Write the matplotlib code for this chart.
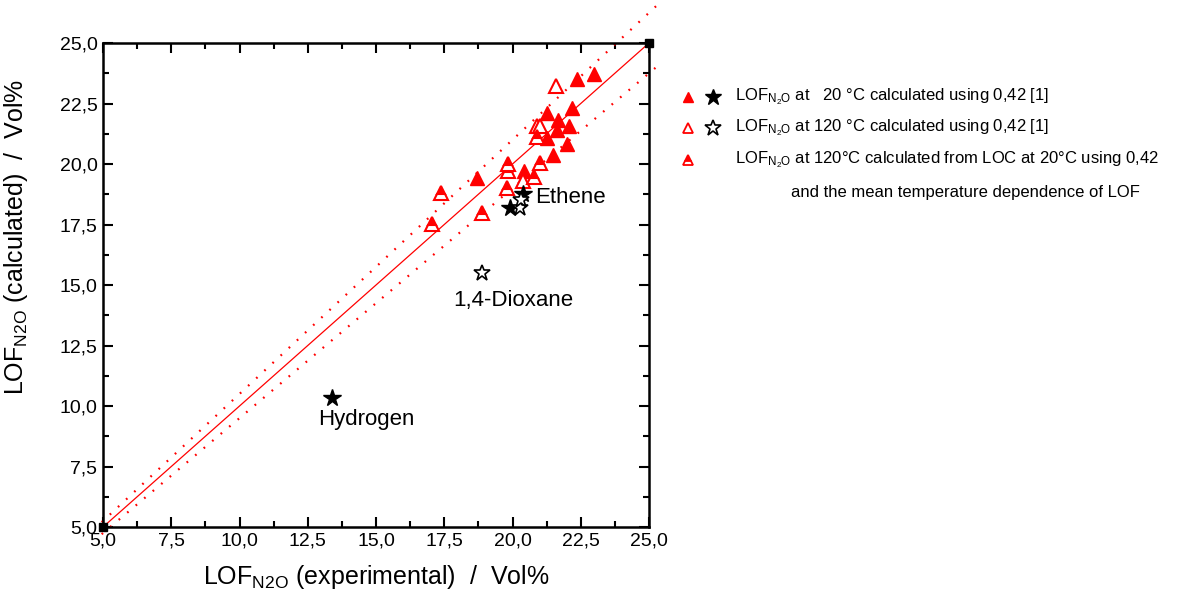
import numpy as np
import matplotlib
matplotlib.use("Agg")
import matplotlib.pyplot as plt
from matplotlib.ticker import MultipleLocator, FuncFormatter

plt.rcParams['font.family'] = ['Liberation Sans', 'DejaVu Sans']
plt.rcParams['mathtext.default'] = 'regular'

# LOF N2O, experimental vs calculated (Vol%)
# red filled triangles: 20 degC calculated
x_tri20 = [18.70, 20.42, 21.26, 22.18, 21.67, 22.07, 21.63, 21.26, 22.00, 21.48, 22.36, 22.99]
y_tri20 = [19.42, 19.71, 22.11, 22.31, 21.82, 21.57, 21.40, 21.07, 20.83, 20.37, 23.51, 23.72]
# red open triangles: 120 degC calculated
x_tri120 = [21.59, 20.90, 21.00, 20.38]
y_tri120 = [23.22, 21.57, 21.57, 19.30]
# red half triangles: 120 degC from LOC at 20 degC
x_trimix = [20.90, 21.00, 19.84, 19.84, 20.79, 19.80, 17.38, 17.05, 18.88]
y_trimix = [21.12, 20.04, 20.00, 19.71, 19.46, 18.99, 18.80, 17.52, 17.98]
# black stars (gases)
x_star20 = [13.39, 19.91, 20.38]
y_star20 = [10.33, 18.18, 18.75]
x_star120 = [18.88, 20.27, 20.30]
y_star120 = [15.50, 18.18, 18.50]

labels = ['Ethene', '1,4-Dioxane', 'Hydrogen']
label_xy = [(20.82, 18.6), (20.04, 14.38), (14.63, 9.46)]
label_ha = ['left', 'center', 'center']

lims = [5, 25]
ticks = np.arange(5, 25.1, 2.5)

fig = plt.figure(figsize=(11.83, 5.99), dpi=100)
ax = fig.add_axes([0.0871, 0.1202, 0.4615, 0.808])

# 1:1 line and +-5 % lines
xl = np.array(lims)
xd = np.array([4.95, 25.4])
ax.plot(xl, xl, color='red', lw=0.9, zorder=2)
ax.plot(xd, xd * 1.05, color='red', lw=1.6, ls=(0, (0.8, 4.2)), clip_on=False, zorder=2)
ax.plot(xd, xd * 0.95, color='red', lw=1.6, ls=(0, (0.8, 4.2)), clip_on=False, zorder=2)
ax.plot(lims, lims, ls='none', marker='s', color='black', ms=6, clip_on=False, zorder=5)

ax.plot(x_tri20, y_tri20, ls='none', marker='^', ms=10, color='red', zorder=3)
ax.plot(x_tri120, y_tri120, ls='none', marker='^', ms=10, mfc='white', mec='red', mew=1.5, zorder=3)
ax.plot(x_trimix, y_trimix, ls='none', marker='^', ms=10, color='red', fillstyle='top',
        markerfacecoloralt='white', mec='red', mew=1.5, zorder=3)
ax.plot(x_star20, y_star20, ls='none', marker='*', ms=13, color='black', zorder=4)
ax.plot(x_star120, y_star120, ls='none', marker='*', ms=12, mfc='white', mec='black', mew=1.2, zorder=4)

for t, (lx, ly), ha in zip(labels, label_xy, label_ha):
    ax.text(lx, ly, t, fontsize=16, ha=ha, va='center')

ax.set_xlim(lims)
ax.set_ylim(lims)
ax.set_xticks(ticks)
ax.set_yticks(ticks)
ax.xaxis.set_minor_locator(MultipleLocator(1.25))
ax.yaxis.set_minor_locator(MultipleLocator(1.25))
fmt = FuncFormatter(lambda v, p: f'{v:.1f}'.replace('.', ','))
ax.xaxis.set_major_formatter(fmt)
ax.yaxis.set_major_formatter(fmt)
ax.tick_params(which='both', direction='in', top=True, right=True, width=1.5, labelsize=14, pad=4)
ax.tick_params(which='major', length=7)
ax.tick_params(which='minor', length=4)
for s in ax.spines.values():
    s.set_linewidth(1.8)

ax.set_xlabel(r'LOF$_{N2O}$ (experimental)  /  Vol%', fontsize=18, labelpad=10)
ax.set_ylabel(r'LOF$_{N2O}$ (calculated)  /  Vol%', fontsize=18)
ax.yaxis.set_label_coords(-0.134, 0.60)

# legend drawn in pixel coordinates
lax = fig.add_axes([0, 0, 1, 1], zorder=-1)
lax.set_xlim(0, 1183)
lax.set_ylim(599, 0)
lax.axis('off')
lax.plot([688], [97], marker='^', ms=7, color='red', ls='none')
lax.plot([713], [97], marker='*', ms=12, color='black', ls='none')
lax.plot([688], [128], marker='^', ms=7, mfc='white', mec='red', mew=1.3, ls='none')
lax.plot([713], [128], marker='*', ms=12, mfc='white', mec='black', mew=1.2, ls='none')
lax.plot([688], [160], marker='^', ms=7, color='red', fillstyle='top', markerfacecoloralt='white',
         mec='red', mew=1.3, ls='none')
leg_txt = [r'LOF$_{N_2O}$ at   20 °C calculated using 0,42 [1]',
           r'LOF$_{N_2O}$ at 120 °C calculated using 0,42 [1]',
           r'LOF$_{N_2O}$ at 120°C calculated from LOC at 20°C using 0,42']
for i, t in enumerate(leg_txt):
    lax.text(735, [97, 128, 160][i], t, fontsize=12, va='center', ha='left')
lax.text(791, 192, 'and the mean temperature dependence of LOF', fontsize=12, va='center', ha='left')

fig.savefig('out.png', dpi=100)
